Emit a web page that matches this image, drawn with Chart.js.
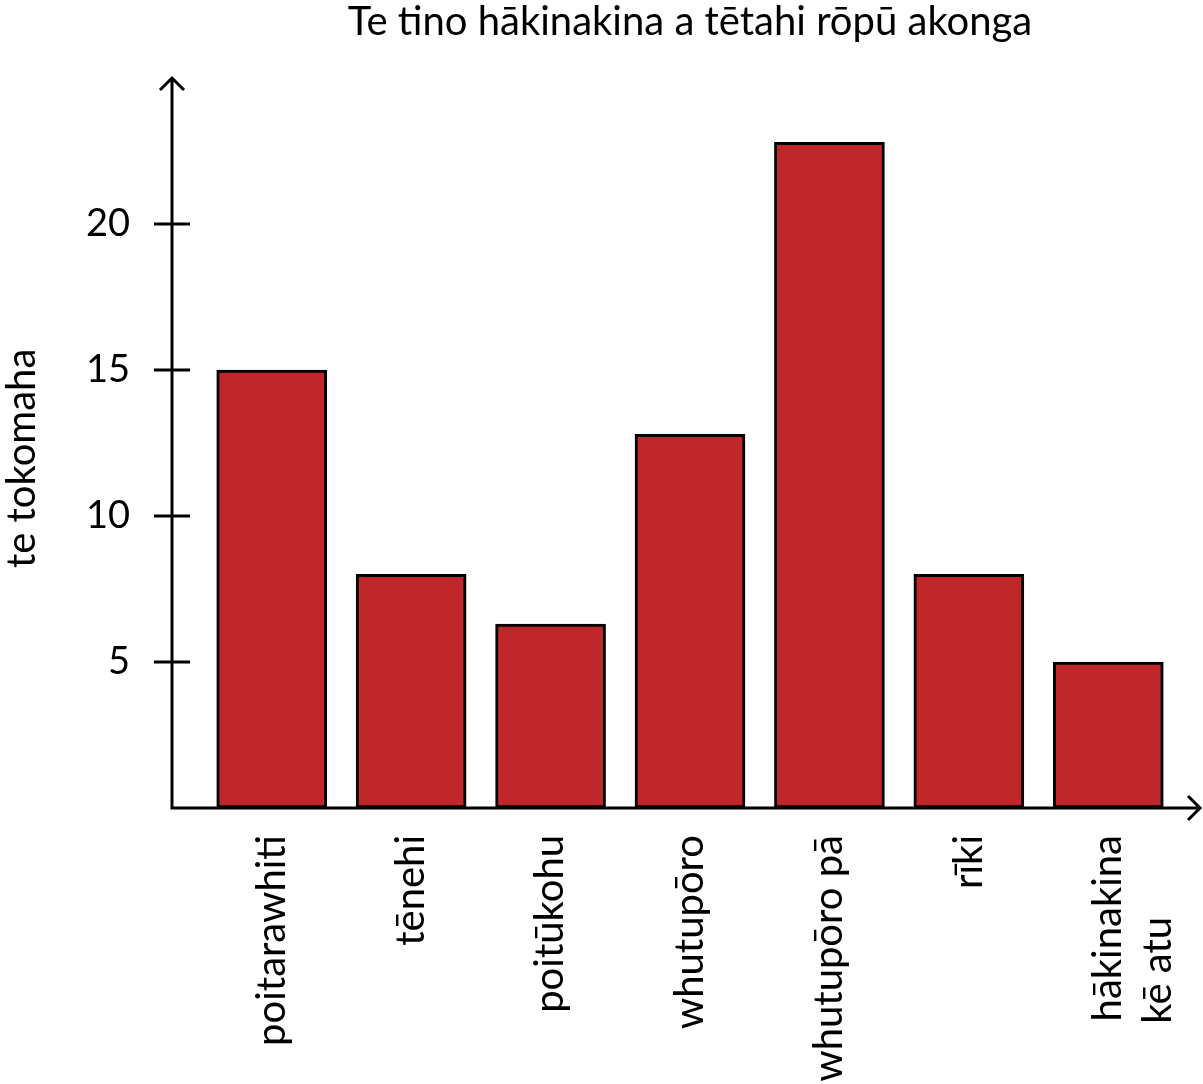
<!DOCTYPE html>
<html>
<head>
<meta charset="utf-8">
<script src="https://cdn.jsdelivr.net/npm/chart.js@4"></script>
<style>
  body { margin: 0; background: #fff; }
  #wrap { width: 1203px; height: 1084px; }
</style>
</head>
<body>
<div id="wrap"><canvas id="sportsChart"></canvas></div>
<script>
// Te tino hākinakina - categories and counts
const sports = ['poitarawhiti', 'tēnehi', 'poitūkohu', 'whutupōro', 'whutupōro pā', 'rīki', ['hākinakina', 'kē atu        ']];
const counts = [15, 8, 6.3, 12.8, 22.8, 8, 5];
const yTicks = [5, 10, 15, 20];

const FONT = 'Lato, "Open Sans", sans-serif';

// draws the arrowed axes and the crossing tick marks
const arrowAxes = {
  id: 'arrowAxes',
  afterLayout(chart) {
    // centre the title over the plot area, not the whole canvas
    if (chart.titleBlock) {
      chart.titleBlock.left = chart.chartArea.left;
      chart.titleBlock.right = chart.chartArea.right;
      chart.titleBlock.width = chart.chartArea.right - chart.chartArea.left;
    }
  },
  afterDraw(chart) {
    const { ctx, chartArea, scales } = chart;
    const ax = chartArea.left - 30;
    const ay = scales.y.getPixelForValue(0);
    const top = chartArea.top;
    const right = chart.width - 3;
    ctx.save();
    ctx.strokeStyle = '#000';
    ctx.lineWidth = 3;
    ctx.lineCap = 'butt';
    ctx.beginPath();
    ctx.moveTo(ax, ay);
    ctx.lineTo(ax, top);
    ctx.moveTo(ax - 12, top + 12);
    ctx.lineTo(ax, top);
    ctx.lineTo(ax + 12, top + 12);
    ctx.moveTo(ax - 1.5, ay);
    ctx.lineTo(right, ay);
    ctx.moveTo(right - 12, ay - 12);
    ctx.lineTo(right, ay);
    ctx.lineTo(right - 12, ay + 12);
    yTicks.forEach(v => {
      const py = scales.y.getPixelForValue(v);
      ctx.moveTo(ax - 18, py);
      ctx.lineTo(ax + 18, py);
    });
    ctx.stroke();
    ctx.restore();
  }
};

function noPadding(scale) {
  scale.paddingTop = 0;
  scale.paddingBottom = 0;
  scale.paddingLeft = 0;
  scale.paddingRight = 0;
}

const sportsChart = new Chart(document.getElementById('sportsChart'), {
  type: 'bar',
  data: {
    labels: sports,
    datasets: [{
      data: counts,
      backgroundColor: '#c0272b',
      borderColor: '#000',
      borderWidth: 3,
      borderSkipped: false,
      barThickness: 110
    }]
  },
  options: {
    responsive: true,
    maintainAspectRatio: false,
    animation: false,
    layout: { padding: { left: 0, right: 25, top: 0, bottom: 0 } },
    plugins: {
      legend: { display: false },
      tooltip: { enabled: false },
      title: {
        display: true,
        text: 'Te tino hākinakina a tētahi rōpū akonga',
        color: '#000',
        font: { family: FONT, size: 40, weight: 'normal', lineHeight: 1.1 },
        padding: { top: 0, bottom: 34 }
      }
    },
    scales: {
      x: {
        grid: { display: false, drawTicks: false },
        border: { display: false },
        ticks: {
          color: '#000',
          font: { family: FONT, size: 40, lineHeight: 1.25 },
          minRotation: 90,
          maxRotation: 90,
          autoSkip: false,
          padding: 27
        },
        afterFit(scale) { scale.height = 276; noPadding(scale); }
      },
      y: {
        min: 0,
        max: 25,
        grid: { display: false, drawTicks: false },
        border: { display: false },
        ticks: {
          stepSize: 5,
          color: '#000',
          font: { family: FONT, size: 38 },
          padding: 72,
          callback: v => yTicks.includes(v) ? v : ''
        },
        title: {
          display: true,
          text: 'te tokomaha   ',
          color: '#000',
          font: { family: FONT, size: 40, lineHeight: 1.1 },
          padding: 0
        },
        afterFit(scale) { scale.width = 202; noPadding(scale); }
      }
    }
  },
  plugins: [arrowAxes]
});
</script>
</body>
</html>
